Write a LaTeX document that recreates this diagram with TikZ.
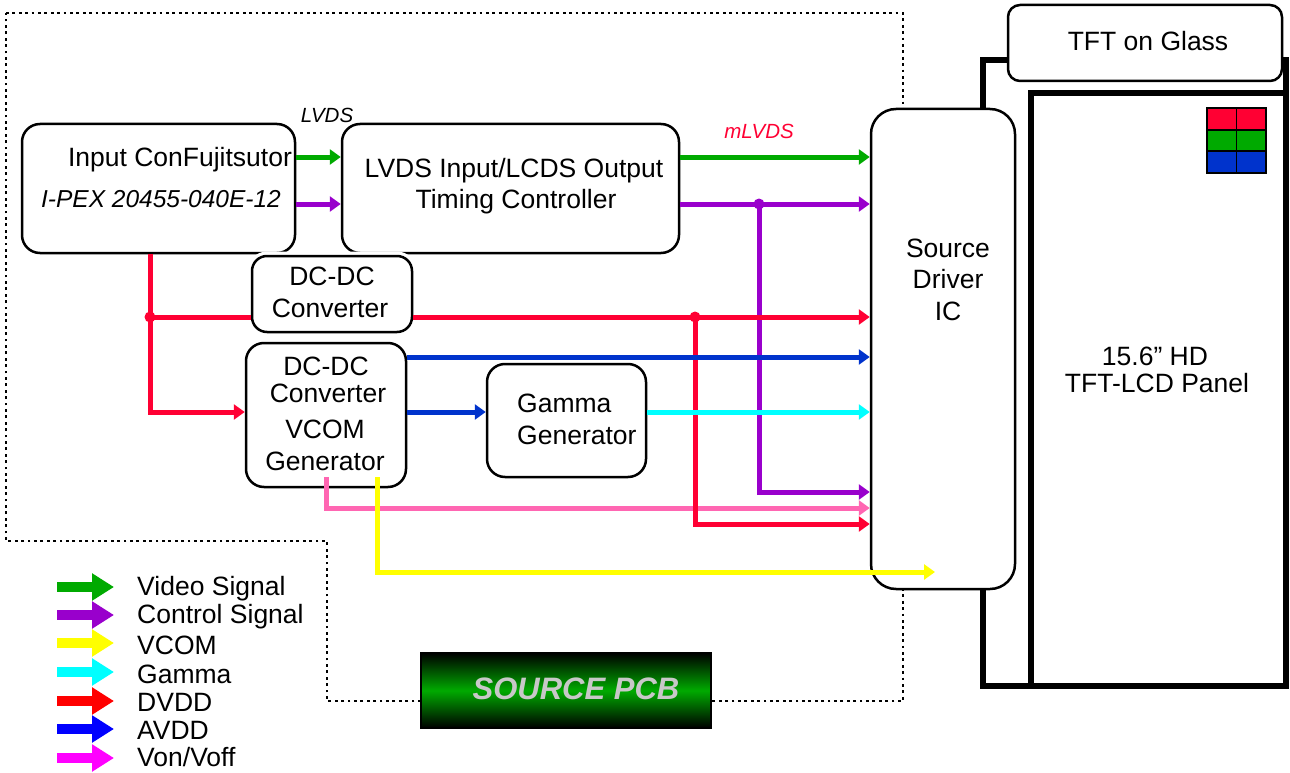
\documentclass[tikz,border=0pt]{standalone}
\usepackage{fontspec}
\setmainfont{Liberation Sans}
\usetikzlibrary{arrows.meta}
\newcommand\fsmain{\fontsize{26.5pt}{32pt}\selectfont}
\newcommand\fssmall{\fontsize{20.5pt}{24pt}\selectfont}
\newcommand\fsital{\fontsize{24.5pt}{30pt}\selectfont}
\newcommand\fspcb{\fontsize{31pt}{36pt}\selectfont}
\definecolor{cvid}{HTML}{00AA00}
\definecolor{cctl}{HTML}{9900CC}
\definecolor{cred}{HTML}{FF0033}
\definecolor{cblu}{HTML}{0033CC}
\definecolor{ccya}{HTML}{00FFFF}
\definecolor{cpink}{HTML}{FF66B2}
\definecolor{cyel}{HTML}{FFFF00}
\definecolor{lred}{HTML}{FF0000}
\definecolor{lblu}{HTML}{0000FF}
\definecolor{lmag}{HTML}{FF00FF}
\definecolor{pcbgray}{HTML}{C8C8C8}
\begin{document}
\begin{tikzpicture}[x=1pt,y=-1pt,
  box/.style={draw, line width=2.5pt, rounded corners=18pt, fill=white, inner sep=0pt},
  txt/.style={font=\fsmain, inner sep=0pt, anchor=base},
  conn/.style={line width=5pt, line join=miter, -{Triangle[length=11pt,width=15pt]}},
  plain/.style={line width=5pt, line join=miter},
  legarrow/.style={line width=10pt, -{Triangle[length=22pt,width=26pt]}},
  dotline/.style={line width=2.8pt, dash pattern=on 2.8pt off 3.6pt},
  frameline/.style={line width=6pt},
  jdot/.style={circle, inner sep=0pt, minimum size=11pt}
]
\useasboundingbox (0,0) rectangle (1290,773);

% dotted outline of source PCB
\draw[dotline] (6,13) -- (903,13) -- (903,701) -- (327,701) -- (327,541) -- (6,541) -- cycle;

% panel frame
\draw[frameline] (983,60) rectangle (1286,686);
\draw[frameline] (1031,93) rectangle (1286,686);

% TFT on glass
\node[box, rounded corners=12pt, minimum width=274pt, minimum height=76pt] (tft) at (1145,43) {};
\node[txt] (tfttxt) at (1148,51) {TFT on Glass};

% RGB pixel grid
\foreach \r/\c in {0/cred,1/cvid,2/cblu}{
  \foreach \k in {0,1}{
    \node[draw, line width=1.8pt, fill=\c, minimum width=29.5pt, minimum height=21.7pt, inner sep=0pt]
      (px\r\k) at ({1207+14.75+29.5*\k},{108+10.85+21.7*\r}) {};
  }
}

% source driver IC
\node[box, rounded corners=25pt, minimum width=144pt, minimum height=480pt] (sd) at (943,349) {};

% blocks
\node[box, minimum width=273pt, minimum height=129pt] (inp) at (158.5,188.5) {};
\node[box, minimum width=337pt, minimum height=129pt] (tcon) at (510.5,188.5) {};
\node[box, rounded corners=15pt, minimum width=160pt, minimum height=76pt,
      preaction={draw=white, line width=9pt}] (dc1) at (332,294) {};
\node[box, minimum width=160pt, minimum height=144pt] (dc2) at (326,415) {};
\node[box, minimum width=159pt, minimum height=113pt] (gam) at (566.5,420.5) {};

% connectors
\draw[conn, cvid] (inp.east |- 0,157) -- (tcon.west |- 0,157);
\draw[conn, cctl] (inp.east |- 0,204) -- (tcon.west |- 0,204);
\draw[conn, cvid] (tcon.east |- 0,157) -- (sd.west |- 0,157);

\coordinate (jctl) at (759,204);
\coordinate (jdv1) at (150,317);
\coordinate (jdv2) at (695,317);

\draw[conn, cpink] (326,477) -- (326,508) -- (sd.west |- 0,508);
\draw[conn, cred] (jdv2) -- (695,524) -- (sd.west |- 0,524);
\draw[conn, cctl] (tcon.east |- 0,204) -- (sd.west |- 0,204);
\draw[conn, cctl] (jctl) -- (759,492) -- (sd.west |- 0,492);
\draw[conn, cred] (150,0 |- inp.south) -- (150,412) -- (dc2.west |- 0,412);
\draw[plain, cred] (jdv1) -- (dc1.west |- jdv1);
\draw[conn, cred] (dc1.east |- jdv1) -- (sd.west |- jdv1);
\draw[conn, cblu] (dc2.east |- 0,357) -- (sd.west |- 0,357);
\draw[conn, cblu] (dc2.east |- 0,412) -- (gam.west |- 0,412);
\draw[conn, ccya] (gam.east |- 0,412) -- (sd.west |- 0,412);
\draw[conn, cyel] (377,477) -- (377,572) -- (935,572);

\node[jdot, fill=cctl] (dctl) at (jctl) {};
\node[jdot, fill=cred] (ddv1) at (jdv1) {};
\node[jdot, fill=cred] (ddv2) at (jdv2) {};

% texts
\node[txt] (t1) at (180,167) {Input ConFujitsutor};
\node[txt, font=\fsital\itshape] (t2) at (161,207) {I-PEX 20455-040E-12};
\node[txt, font=\fssmall\itshape] (tlvds) at (327,123) {LVDS};
\node[txt, font=\fssmall\itshape, text=cred] (tmlvds) at (759,139) {mLVDS};
\node[txt] (t3) at (514,177) {LVDS Input/LCDS Output};
\node[txt] (t4) at (516,208) {Timing Controller};
\node[txt] (t5) at (332,285) {DC-DC};
\node[txt] (t6) at (330,317) {Converter};
\node[txt] (t7) at (326,375) {DC-DC};
\node[txt] (t8) at (328,402) {Converter};
\node[txt] (t9) at (325,438) {VCOM};
\node[txt] (t10) at (325,470) {Generator};
\node[txt, anchor=base west] (t11) at (517,412) {Gamma};
\node[txt, anchor=base west] (t12) at (517,444) {Generator};
\node[txt] (t13) at (948,257) {Source};
\node[txt] (t14) at (948,288) {Driver};
\node[txt] (t15) at (948,320) {IC};
\node[txt] (t16) at (1155,365) {15.6\textquotedblright{} HD};
\node[txt] (t17) at (1157,392) {TFT-LCD Panel};

% legend
\foreach \yy/\ty/\cc/\lab [count=\i] in {587/589/cvid/Video Signal, 615/617/cctl/Control Signal,
    643/645/cyel/VCOM, 672/674/ccya/Gamma, 701/702/lred/DVDD, 729/730/lblu/AVDD, 758/757/lmag/Von\slash Voff}{
  \coordinate (la\i) at (57,\yy);
  \coordinate (lb\i) at (114,\yy);
  \draw[legarrow, \cc] (la\i) -- (lb\i);
  \node[txt, anchor=west] (lt\i) at (137,\ty) {\lab};
}

% source PCB label
\node[draw=black, line width=2pt, minimum width=290pt, minimum height=75pt, inner sep=0pt,
      top color=black, bottom color=black, middle color=cvid] (pcb) at (566,690.5) {};
\node[txt, font=\fspcb\bfseries\itshape, text=pcbgray] (pcbtxt) at (576,699) {SOURCE PCB};
\end{tikzpicture}
\end{document}
